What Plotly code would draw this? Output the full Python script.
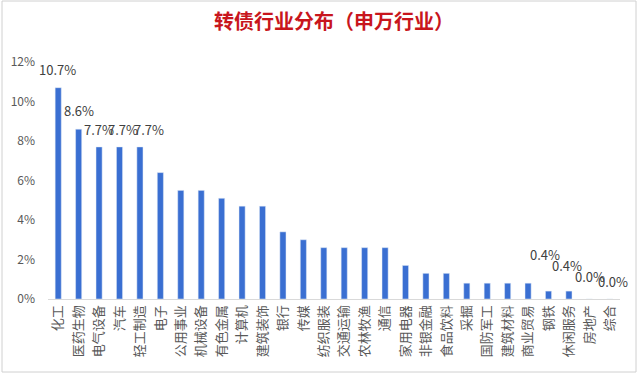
import plotly.graph_objects as go

categories = ["化工", "医药生物", "电气设备", "汽车", "轻工制造", "电子", "公用事业", "机械设备",
              "有色金属", "计算机", "建筑装饰", "银行", "传媒", "纺织服装", "交通运输", "农林牧渔",
              "通信", "家用电器", "非银金融", "食品饮料", "采掘", "国防军工", "建筑材料", "商业贸易",
              "钢铁", "休闲服务", "房地产", "综合"]
values = [10.7, 8.6, 7.7, 7.7, 7.7, 6.4, 5.5, 5.5,
          5.1, 4.7, 4.7, 3.4, 3.0, 2.6, 2.6, 2.6,
          2.6, 1.7, 1.3, 1.3, 0.8, 0.8, 0.8, 0.8,
          0.4, 0.4, 0.0, 0.0]
labeled = ["化工", "医药生物", "电气设备", "汽车", "轻工制造", "钢铁", "休闲服务", "房地产", "综合"]
label_yshift = {"化工": 7, "医药生物": 7, "电气设备": 6, "汽车": 6, "轻工制造": 6,
                "钢铁": 25, "休闲服务": 14, "房地产": 11, "综合": 6}
label_xshift = {"化工": -1, "医药生物": 0, "电气设备": 0, "汽车": 3, "轻工制造": 9,
                "钢铁": -4, "休闲服务": -2, "房地产": 1, "综合": 3}
yticks = [0, 2, 4, 6, 8, 10, 12]

W, H = 640, 377
ml, mr, mt, mb = 48, 20, 62, 78

fig = go.Figure()
fig.add_trace(go.Bar(x=categories, y=values, marker_color="#3A6FD2", width=0.3, hoverinfo="skip"))

for c, v in zip(categories, values):
    if c in labeled:
        fig.add_annotation(x=c, y=v, text=f"{v:.1f}%", showarrow=False, yanchor="bottom",
                           xanchor="center", yshift=label_yshift[c], xshift=label_xshift[c],
                           font=dict(size=13, color="#404040", family="Noto Sans CJK SC"))

pw, ph = W - ml - mr, H - mt - mb
fig.add_shape(type="rect", xref="paper", yref="paper",
              x0=(2 - ml) / pw, x1=(636 - ml) / pw,
              y0=-(372 - mt - ph) / ph, y1=1 + (mt - 1) / ph,
              line=dict(color="#D0D0D0", width=1), fillcolor="rgba(0,0,0,0)", layer="below")

fig.update_layout(
    width=W, height=H, margin=dict(l=ml, r=mr, t=mt, b=mb),
    paper_bgcolor="white", plot_bgcolor="white", showlegend=False,
    font=dict(family="Noto Sans CJK SC", color="#595959"),
    title=dict(text="<b>转债行业分布（申万行业）</b>", x=0.5, xref="paper", y=1 - 22 / H, yanchor="middle",
               font=dict(size=20, color="#C8161D", family="Noto Sans CJK SC")),
    xaxis=dict(type="category", tickangle=-90, showgrid=False, showline=True, linecolor="#D9D9D9",
               linewidth=1, ticks="", tickfont=dict(size=13, color="#595959"), range=[-0.5, 27.5]),
    yaxis=dict(range=[0, 12], tickvals=yticks, ticktext=[f"{t}%" for t in yticks], showgrid=False,
               zeroline=False, showline=False, ticks="", ticklabelstandoff=12,
               tickfont=dict(size=12, color="#595959")),
)

fig.write_html("out.html")
